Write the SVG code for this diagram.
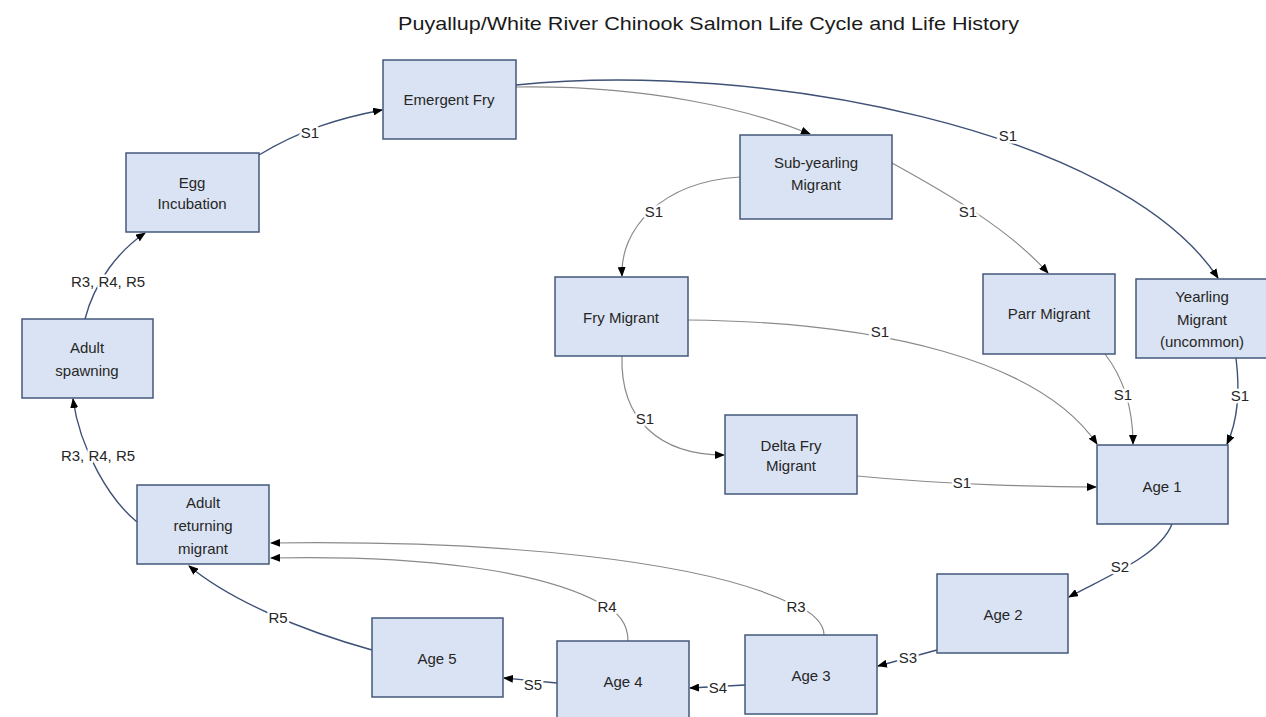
<svg xmlns="http://www.w3.org/2000/svg" width="1266" height="717" viewBox="0 0 1266 717">
<style>
  .box { fill: #DAE3F3; stroke: #44587C; stroke-width: 1.5; }
  .t { font-family: "Liberation Sans", Arial, sans-serif; font-size: 15px; fill: #262626; text-anchor: middle; }
  .title { font-family: "Liberation Sans", Arial, sans-serif; font-size: 19px; fill: #1a1a1a; }
  .dk { fill: none; stroke: #3E5176; stroke-width: 1.4; }
  .gr { fill: none; stroke: #8A8A8A; stroke-width: 1.2; }
  .lbl { font-family: "Liberation Sans", Arial, sans-serif; font-size: 15px; fill: #262626; text-anchor: middle; stroke: #ffffff; stroke-width: 5px; paint-order: stroke; stroke-linejoin: round; }
</style>
<defs>
  <marker id="arr" markerUnits="userSpaceOnUse" markerWidth="10" markerHeight="8" refX="9" refY="4" orient="auto">
    <path d="M0,0 L10,4 L0,8 z" fill="#000"/>
  </marker>
</defs>
<rect width="1266" height="717" fill="#ffffff"/>
<text class="title" x="398" y="30" textLength="621" lengthAdjust="spacingAndGlyphs">Puyallup/White River Chinook Salmon Life Cycle and Life History</text>

<g id="connectors">
  <path class="dk" d="M259,155 C300,130 340,118 382,110" marker-end="url(#arr)"/>
  <path class="dk" d="M85,319 C95,280 120,250 145,233" marker-end="url(#arr)"/>
  <path class="dk" d="M137,522 C110,500 80,450 73,399" marker-end="url(#arr)"/>
  <path class="dk" d="M372,650 C300,630 230,600 189,566" marker-end="url(#arr)"/>
  <path class="dk" d="M557,683 L504,678" marker-end="url(#arr)"/>
  <path class="dk" d="M745,685 L690,688" marker-end="url(#arr)"/>
  <path class="dk" d="M937,650 L878,666" marker-end="url(#arr)"/>
  <path class="dk" d="M1172,524 C1160,555 1110,575 1069,597" marker-end="url(#arr)"/>
  <path class="dk" d="M516,85 C760,60 1120,130 1218,278" marker-end="url(#arr)"/>
  <path class="dk" d="M1236,358 C1240,390 1238,420 1227,444" marker-end="url(#arr)"/>
  <path class="gr" d="M516,87 C650,85 750,110 810,134" marker-end="url(#arr)"/>
  <path class="gr" d="M740,177 C660,182 620,230 622,276" marker-end="url(#arr)"/>
  <path class="gr" d="M892,163 C950,195 1010,230 1048,273" marker-end="url(#arr)"/>
  <path class="gr" d="M688,320 C880,322 1040,360 1097,444" marker-end="url(#arr)"/>
  <path class="gr" d="M622,356 C620,420 660,455 724,455" marker-end="url(#arr)"/>
  <path class="gr" d="M857,476 C950,485 1050,487 1096,487" marker-end="url(#arr)"/>
  <path class="gr" d="M1105,354 C1125,380 1133,410 1133,444" marker-end="url(#arr)"/>
  <path class="gr" d="M824,635 C824,625 815,612 790,603 C700,560 500,540 271,543" marker-end="url(#arr)"/>
  <path class="gr" d="M628,641 C628,625 620,612 600,603 C540,570 420,555 271,558" marker-end="url(#arr)"/>
  <text class="lbl" x="310" y="138">S1</text>
  <text class="lbl" x="108" y="287">R3, R4, R5</text>
  <text class="lbl" x="98" y="461">R3, R4, R5</text>
  <text class="lbl" x="278" y="623">R5</text>
  <text class="lbl" x="533" y="690">S5</text>
  <text class="lbl" x="718" y="693">S4</text>
  <text class="lbl" x="908" y="663">S3</text>
  <text class="lbl" x="1120" y="572">S2</text>
  <text class="lbl" x="1008" y="141">S1</text>
  <text class="lbl" x="1240" y="401">S1</text>
  <text class="lbl" x="1123" y="400">S1</text>
  <text class="lbl" x="654" y="217">S1</text>
  <text class="lbl" x="968" y="217">S1</text>
  <text class="lbl" x="880" y="337">S1</text>
  <text class="lbl" x="645" y="424">S1</text>
  <text class="lbl" x="962" y="488">S1</text>
  <text class="lbl" x="796" y="612">R3</text>
  <text class="lbl" x="607" y="612">R4</text>
</g>

<g id="emergent-fry"><rect class="box" x="383" y="60" width="133" height="79"/><text class="t" x="449" y="105">Emergent Fry</text></g>
<g id="egg-incubation"><rect class="box" x="126" y="153" width="133" height="79"/><text class="t" x="192" y="188">Egg</text><text class="t" x="192" y="209">Incubation</text></g>
<g id="adult-spawning"><rect class="box" x="22" y="319" width="131" height="79"/><text class="t" x="87" y="353">Adult</text><text class="t" x="87" y="376">spawning</text></g>
<g id="sub-yearling-migrant"><rect class="box" x="740" y="135" width="152" height="84"/><text class="t" x="816" y="168">Sub-yearling</text><text class="t" x="816" y="190">Migrant</text></g>
<g id="fry-migrant"><rect class="box" x="555" y="277" width="133" height="79"/><text class="t" x="621" y="323">Fry Migrant</text></g>
<g id="delta-fry-migrant"><rect class="box" x="725" y="415" width="132" height="79"/><text class="t" x="791" y="451">Delta Fry</text><text class="t" x="791" y="471">Migrant</text></g>
<g id="parr-migrant"><rect class="box" x="983" y="274" width="132" height="80"/><text class="t" x="1049" y="319">Parr Migrant</text></g>
<g id="yearling-migrant"><rect class="box" x="1136" y="279" width="132" height="79"/><text class="t" x="1202" y="302">Yearling</text><text class="t" x="1202" y="325">Migrant</text><text class="t" x="1202" y="347">(uncommon)</text></g>
<g id="age-1"><rect class="box" x="1097" y="445" width="131" height="79"/><text class="t" x="1162" y="492">Age 1</text></g>
<g id="age-2"><rect class="box" x="937" y="574" width="131" height="79"/><text class="t" x="1003" y="620">Age 2</text></g>
<g id="age-3"><rect class="box" x="745" y="635" width="132" height="79"/><text class="t" x="811" y="681">Age 3</text></g>
<g id="age-4"><rect class="box" x="557" y="641" width="132" height="80"/><text class="t" x="623" y="687">Age 4</text></g>
<g id="age-5"><rect class="box" x="372" y="618" width="131" height="79"/><text class="t" x="437" y="664">Age 5</text></g>
<g id="adult-returning-migrant"><rect class="box" x="137" y="485" width="132" height="79"/><text class="t" x="203" y="508">Adult</text><text class="t" x="203" y="531">returning</text><text class="t" x="203" y="554">migrant</text></g>
</svg>
